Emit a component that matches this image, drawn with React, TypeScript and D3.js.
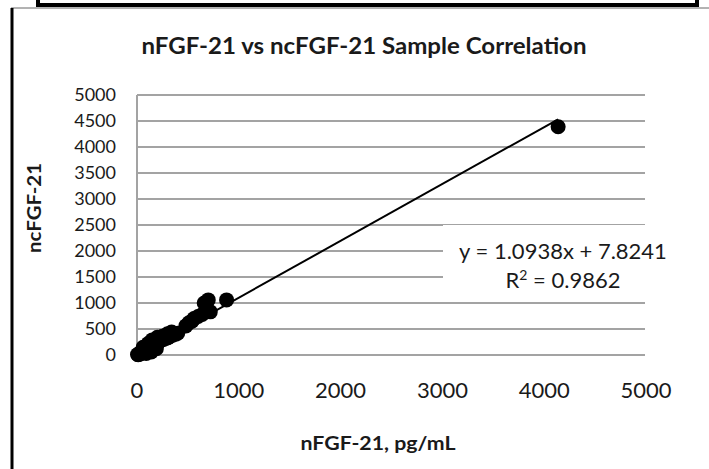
import React from "react";
import * as d3 from "d3";

const title = "nFGF-21 vs ncFGF-21 Sample Correlation";
const xTitle = "nFGF-21, pg/mL";
const yTitle = "ncFGF-21";
const xTicks = [0, 1000, 2000, 3000, 4000, 5000];
const yTicks = [0, 500, 1000, 1500, 2000, 2500, 3000, 3500, 4000, 4500, 5000];
const xValues = [5, 12, 18, 25, 30, 38, 45, 52, 60, 68, 75, 85, 95, 105, 115, 125, 135, 145, 155, 165, 175, 185, 195, 210, 225, 240, 260, 280, 300, 320, 350, 380, 400, 60, 110, 150, 200, 250, 300, 340, 90, 140, 190, 480, 510, 540, 560, 600, 640, 660, 700, 720, 880, 4137];
const yValues = [10, 5, 20, 15, 35, 30, 50, 45, 70, 60, 85, 95, 110, 100, 130, 150, 140, 170, 190, 180, 210, 230, 250, 240, 270, 290, 300, 320, 330, 350, 380, 400, 420, 150, 220, 290, 340, 360, 410, 440, 30, 60, 120, 560, 620, 650, 700, 740, 780, 1000, 1060, 830, 1060, 4390];
const slope = 1.0938;
const intercept = 7.8241;
const eqLine1 = "y = 1.0938x + 7.8241";
const eqR2 = "0.9862";

const FONT = "Lato, 'Open Sans', sans-serif";

export default function App() {
  const x = d3.scaleLinear().domain([0, 5000]).range([137, 646]);
  const y = d3.scaleLinear().domain([0, 5000]).range([355, 95]);
  const xMin = d3.min(xValues) as number;
  const xMax = d3.max(xValues) as number;
  const line = d3.line<number>().x((d) => x(d)).y((d) => y(slope * d + intercept));
  return (
    <svg width={709} height={469} style={{ position: "absolute", left: 0, top: 0, background: "#fff" }}>
      {/* outer frames */}
      <path d="M38,0 V5 H697 V0" fill="none" stroke="#000" strokeWidth={4} />
      <line x1={11} y1={8} x2={709} y2={8} stroke="#666" strokeWidth={1} />
      <line x1={12} y1={8} x2={12} y2={469} stroke="#000" strokeWidth={3} />

      <text x={364} y={54} textAnchor="middle" fontFamily={FONT} fontWeight={700} fontSize={22} textLength={445} lengthAdjust="spacingAndGlyphs" fill="#1a1a1a">{title}</text>

      {/* gridlines */}
      {yTicks.map((t) => (
        <line key={t} x1={x(0)} x2={645} y1={y(t)} y2={y(t)} stroke="#a3a3a3" strokeWidth={2} />
      ))}
      <line x1={x(0)} x2={x(0)} y1={y(5000)} y2={y(0)} stroke="#a3a3a3" strokeWidth={2} />

      {/* y tick labels */}
      {yTicks.map((t) => (
        <text key={t} x={116} y={y(t)} dy="0.35em" textAnchor="end" fontFamily={FONT} fontSize={18} fill="#1a1a1a">{t}</text>
      ))}
      {/* x tick labels */}
      {xTicks.map((t) => (
        <text key={t} x={x(t)} y={390} dy="0.35em" textAnchor="middle" fontFamily={FONT} fontSize={22} fill="#1a1a1a">{t}</text>
      ))}

      <text x={378} y={443} dy="0.35em" textAnchor="middle" fontFamily={FONT} fontWeight={700} fontSize={19} textLength={155} lengthAdjust="spacingAndGlyphs" fill="#1a1a1a">{xTitle}</text>
      <text transform="translate(34,208) rotate(-90)" dy="0.35em" textAnchor="middle" fontFamily={FONT} fontWeight={700} fontSize={19} textLength={90} lengthAdjust="spacingAndGlyphs" fill="#1a1a1a">{yTitle}</text>

      {/* points */}
      {xValues.map((v, i) => (
        <circle key={i} cx={x(v)} cy={y(yValues[i])} r={7.5} fill="#000" />
      ))}
      {/* trendline */}
      <path d={line([xMin, xMax]) || ""} fill="none" stroke="#000" strokeWidth={2} />

      {/* equation box */}
      <rect x={443} y={225} width={240} height={75} fill="#fff" />
      <text x={563} y={251} dy="0.35em" textAnchor="middle" fontFamily={FONT} fontSize={22} fill="#1a1a1a">{eqLine1}</text>
      <text x={563} y={280} dy="0.35em" textAnchor="middle" fontFamily={FONT} fontSize={22} fill="#1a1a1a">
        R<tspan fontSize={14} dy={-8}>2</tspan><tspan dy={8}>{" = " + eqR2}</tspan>
      </text>
    </svg>
  );
}
